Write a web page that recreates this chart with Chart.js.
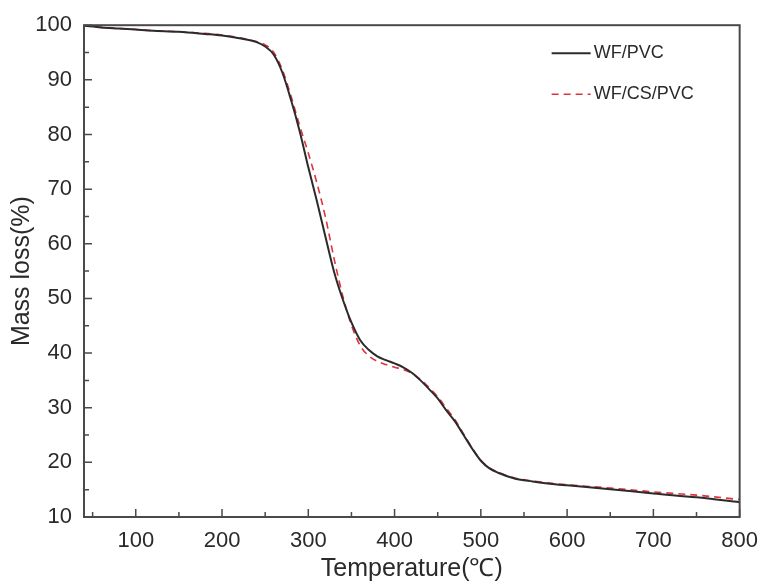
<!DOCTYPE html>
<html>
<head>
<meta charset="utf-8">
<script src="https://cdn.jsdelivr.net/npm/chart.js@4/dist/chart.umd.min.js"></script>
<style>
  body { margin: 0; background: #fff; }
  #tga_box { width: 769px; height: 582px; }
</style>
</head>
<body>
<div id="tga_box"><canvas id="tga_chart" width="769" height="582"></canvas></div>
<script>
// temperatures (deg C)
var temperature = [40, 60, 80, 100, 120, 150, 180, 200, 220, 240, 250, 260, 270, 280, 290, 300,
	310, 320, 330, 340, 350, 360, 370, 380, 390, 400, 410, 420, 430, 440, 450, 460, 470, 480,
	490, 500, 510, 520, 540, 560, 580, 600, 650, 700, 750, 800];

// mass (%) for each sample
var wf_pvc = [99.9, 99.6, 99.4, 99.2, 99.0, 98.8, 98.4, 98.1, 97.6, 96.9, 96.1, 94.6, 91.3, 86.3, 80.6, 74.0,
	67.8, 61.2, 54.8, 49.8, 45.6, 42.4, 40.6, 39.4, 38.7, 38.1, 37.4, 36.4, 35.0, 33.4, 31.7, 29.5, 27.5, 25.0,
	22.5, 20.3, 18.9, 18.1, 17.0, 16.5, 16.1, 15.8, 15.1, 14.3, 13.6, 12.7];
var wf_cs_pvc = [99.9, 99.6, 99.4, 99.2, 99.0, 98.8, 98.5, 98.2, 97.7, 97.0, 96.4, 95.0, 91.8, 87.0, 81.6, 76.6,
	71.1, 64.8, 57.2, 50.4, 45.1, 41.4, 39.5, 38.5, 37.9, 37.4, 37.0, 36.3, 35.2, 33.7, 32.0, 29.9, 27.8, 25.2,
	22.6, 20.4, 19.0, 18.2, 17.1, 16.6, 16.2, 15.9, 15.3, 14.6, 14.0, 13.2];

var series_labels = ['WF/PVC', 'WF/CS/PVC'];
var x_ticks = [100, 200, 300, 400, 500, 600, 700, 800];
var y_ticks = [10, 20, 30, 40, 50, 60, 70, 80, 90, 100];

var axis_color = '#4a4a4a';
var text_color = '#2a2a2a';

function tga_points(values)
{
	var pts = [];
	for (var i = 0; i < temperature.length; i++)
		pts.push({x: temperature[i], y: values[i]});
	return pts;
}

// frame + inward ticks
var tga_frame = {
	id: 'tga_frame',
	afterDatasetsDraw: function(chart)
	{
		var ctx = chart.ctx, a = chart.chartArea, sx = chart.scales.x, sy = chart.scales.y;
		ctx.save();
		ctx.strokeStyle = axis_color;
		ctx.lineWidth = 2;
		ctx.strokeRect(a.left, a.top, a.right - a.left, a.bottom - a.top);
		ctx.lineWidth = 1.5;
		ctx.beginPath();
		for (var i = 0; i < x_ticks.length; i++)
		{
			var px = sx.getPixelForValue(x_ticks[i]);
			ctx.moveTo(px, a.bottom); ctx.lineTo(px, a.bottom - 8);
			var pm = sx.getPixelForValue(x_ticks[i] - 50);
			if (pm > a.left + 2) { ctx.moveTo(pm, a.bottom); ctx.lineTo(pm, a.bottom - 5); }
		}
		for (var j = 0; j < y_ticks.length; j++)
		{
			var py = sy.getPixelForValue(y_ticks[j]);
			ctx.moveTo(a.left, py); ctx.lineTo(a.left + 8, py);
			if (y_ticks[j] < 100)
			{
				var pn = sy.getPixelForValue(y_ticks[j] + 5);
				ctx.moveTo(a.left, pn); ctx.lineTo(a.left + 5, pn);
			}
		}
		ctx.stroke();
		ctx.restore();
	}
};

// legend drawn inside the plot, top right
var tga_legend = {
	id: 'tga_legend',
	afterDraw: function(chart)
	{
		var ctx = chart.ctx, a = chart.chartArea;
		ctx.save();
		ctx.font = '18px "Liberation Sans", Arial, sans-serif';
		ctx.textBaseline = 'middle';
		chart.data.datasets.forEach(function(ds, k)
		{
			var yy = a.top + 28 + k * 41;
			ctx.strokeStyle = ds.borderColor;
			ctx.lineWidth = ds.borderWidth;
			ctx.setLineDash(ds.borderDash || []);
			ctx.beginPath();
			ctx.moveTo(a.right - 188, yy); ctx.lineTo(a.right - 149, yy);
			ctx.stroke();
			ctx.fillStyle = text_color;
			ctx.fillText(ds.label, a.right - 146, yy);
		});
		ctx.restore();
	}
};

var ctx = document.getElementById('tga_chart').getContext('2d');
var tga_chart = new Chart(ctx, {
	type: 'line',
	data: {
		datasets: [
			{
				label: series_labels[0],
				data: tga_points(wf_pvc),
				borderColor: '#2b2b2b',
				borderWidth: 2,
				pointRadius: 0,
				cubicInterpolationMode: 'monotone'
			},
			{
				label: series_labels[1],
				data: tga_points(wf_cs_pvc),
				borderColor: '#e0323c',
				borderWidth: 1.6,
				borderDash: [7, 5],
				pointRadius: 0,
				cubicInterpolationMode: 'monotone'
			}
		]
	},
	options: {
		responsive: false,
		devicePixelRatio: 1,
		animation: false,
		layout: { padding: { top: 25, right: 24, left: 0, bottom: 0 } },
		plugins: { legend: { display: false }, tooltip: { enabled: false } },
		scales: {
			x: {
				type: 'linear',
				min: 40,
				max: 800,
				afterBuildTicks: function(scale) { scale.ticks = x_ticks.map(function(v) { return {value: v}; }); },
				afterFit: function(scale) { scale.height = 65; },
				grid: { display: true, drawOnChartArea: false, drawTicks: false },
				border: { display: false },
				ticks: { color: text_color, padding: 11, font: { family: '"Liberation Sans", Arial', size: 22 } },
				title: {
					display: true,
					text: 'Temperature(℃)',
					color: text_color,
					padding: 0,
					font: { family: '"Liberation Sans", Arial', size: 25, lineHeight: 1 }
				}
			},
			y: {
				type: 'linear',
				min: 10,
				max: 100,
				afterBuildTicks: function(scale) { scale.ticks = y_ticks.map(function(v) { return {value: v}; }); },
				afterFit: function(scale) { scale.width = 84; },
				grid: { display: true, drawOnChartArea: false, drawTicks: false },
				border: { display: false },
				ticks: { color: text_color, padding: 12, font: { family: '"Liberation Sans", Arial', size: 22 } },
				title: {
					display: true,
					text: 'Mass loss(%)',
					color: text_color,
					padding: { top: 10, bottom: 0 },
					font: { family: '"Liberation Sans", Arial', size: 25, lineHeight: 1 }
				}
			}
		}
	},
	plugins: [tga_frame, tga_legend]
});
</script>
</body>
</html>
